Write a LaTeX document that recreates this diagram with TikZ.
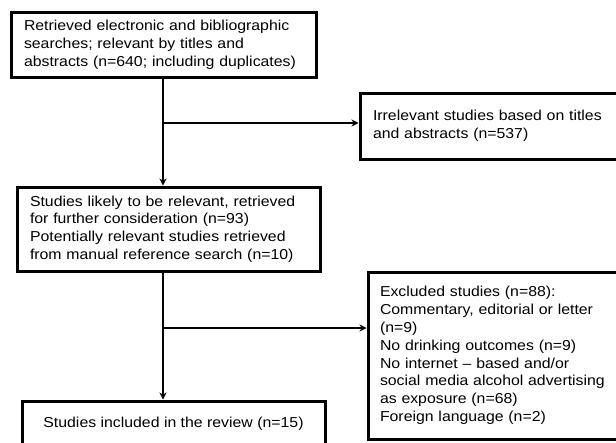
\documentclass[tikz,border=0pt]{standalone}
\usepackage{fontspec}
\setmainfont{Liberation Sans}[FakeStretch=1.1]
\usetikzlibrary{arrows.meta}
\begin{document}
\begin{tikzpicture}[x=1pt,y=-1pt,
    flowbox/.style={draw, line width=3pt, rectangle, inner xsep=0pt, inner ysep=0pt,
        align=left, font=\fontsize{14.4}{17.8}\selectfont},
    flowline/.style={line width=1.5pt},
    flowarrow/.style={line width=1.5pt, -{Stealth[length=7pt,width=7pt]}}]

    % Picture frame
    \useasboundingbox (0,0) rectangle (616,442);
    \clip (0,0) rectangle (616,442);

    % Boxes on the left
    \node[flowbox, minimum width=305, minimum height=65, text width=279] (retrieved) at (163.5,44.5)
        {Retrieved electronic and bibliographic\\searches; relevant by titles and\\abstracts (n=640; including duplicates)};
    \node[flowbox, minimum width=303, minimum height=84, text width=277] (likely) at (168.5,229)
        {Studies likely to be relevant, retrieved\\for further consideration (n=93)\\Potentially relevant studies retrieved\\from manual reference search (n=10)};
    \node[flowbox, minimum width=303, minimum height=46, align=center] (included) at (173.5,424)
        {Studies included in the review (n=15)};

    % Boxes on the right
    \node[flowbox, minimum width=272, minimum height=66, text width=246] (irrelevant) at (496,126)
        {Irrelevant studies based on titles\\and abstracts (n=537)};
    \node[flowbox, minimum width=264, minimum height=167, text width=240] (excluded) at (500,355.5)
        {Excluded studies (n=88):\\Commentary, editorial or letter\\(n=9)\\No drinking outcomes (n=9)\\No internet -- based and/or\\social media alcohol advertising\\as exposure (n=68)\\Foreign language (n=2)};

    % Branch points
    \coordinate (split1) at (163,123);
    \coordinate (split2) at (163,328);

    % Main flow
    \draw[flowarrow] (split1 |- retrieved.south) -- (split1 |- likely.north);
    \draw[flowarrow] (split2 |- likely.south) -- (split2 |- included.north);

    % Side arrows
    \draw[flowarrow] (split1) -- (split1 -| irrelevant.west);
    \draw[flowarrow] (split2) -- (split2 -| excluded.west);
\end{tikzpicture}
\end{document}
